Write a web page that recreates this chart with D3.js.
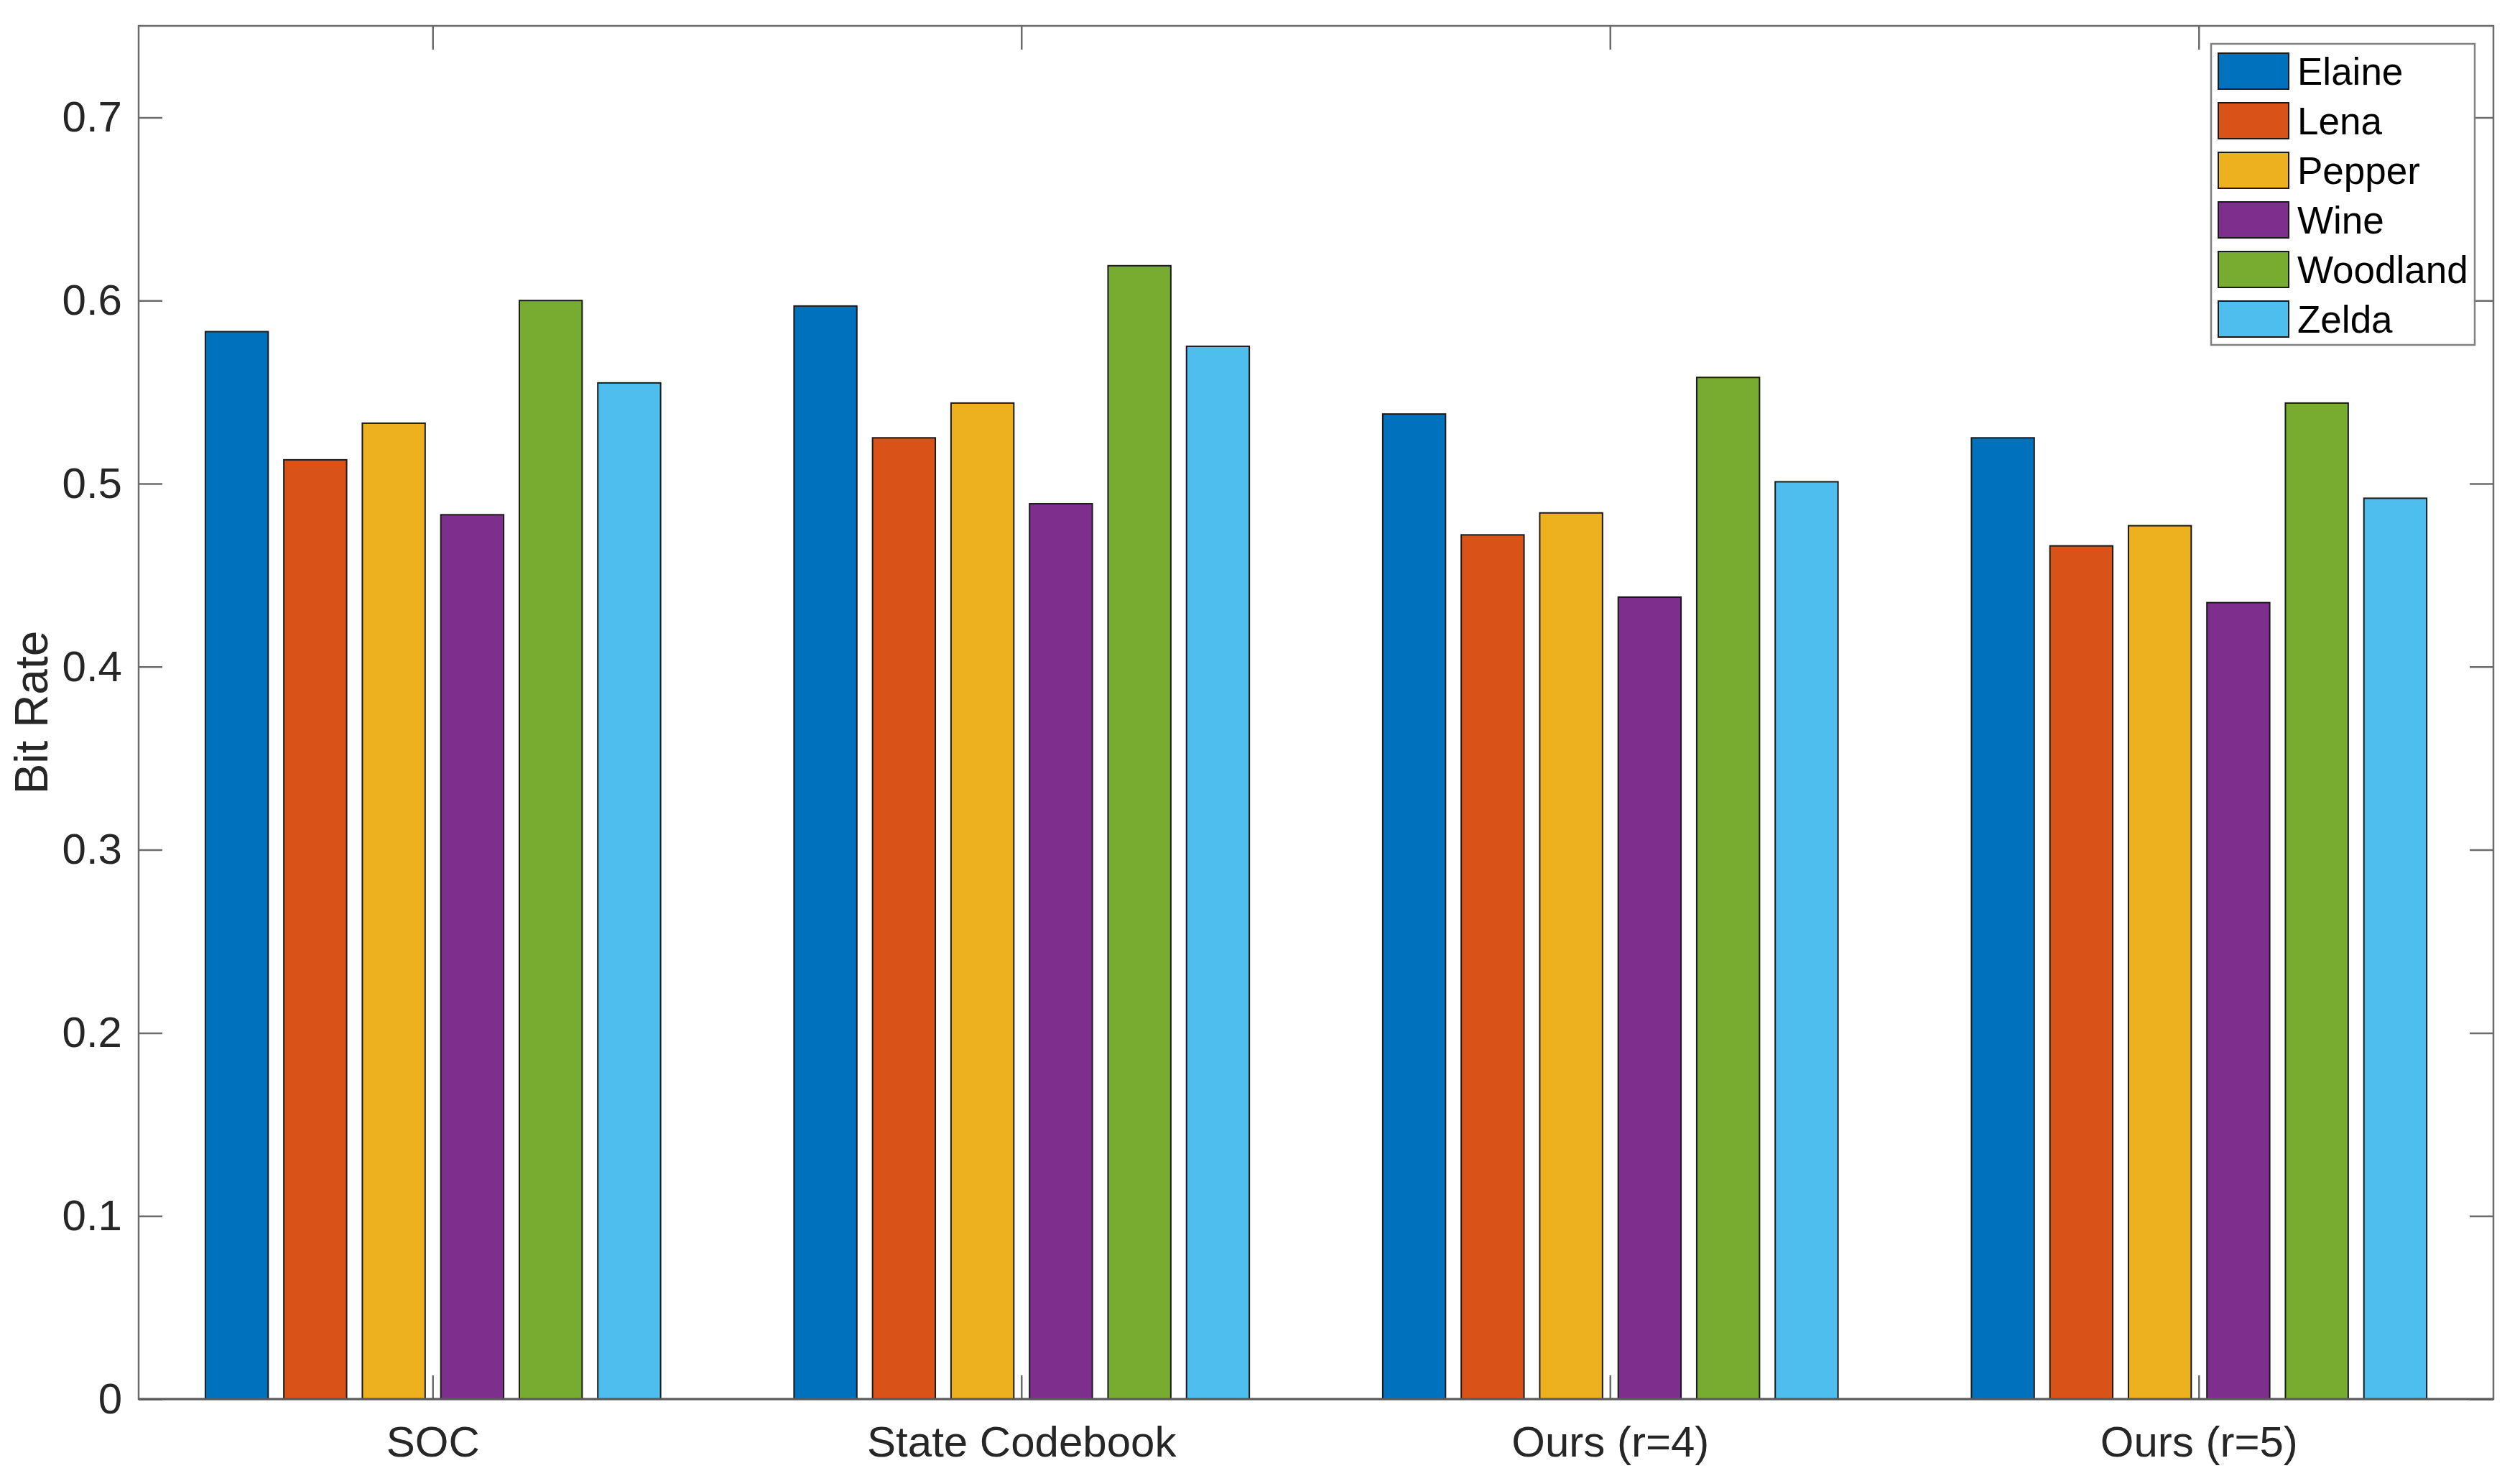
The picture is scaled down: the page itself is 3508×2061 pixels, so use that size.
<!DOCTYPE html>
<html>
<head>
<meta charset="utf-8">
<script src="https://cdn.jsdelivr.net/npm/d3@7/dist/d3.min.js"></script>
<style>
  html, body { margin: 0; padding: 0; background: #fff; }
  svg { display: block; font-family: "Liberation Sans", Arial, Helvetica, sans-serif; }
</style>
</head>
<body>
<div id="chart"></div>
<script>
// data
const categories = ['SOC', 'State Codebook', 'Ours (r=4)', 'Ours (r=5)'];
const seriesNames = ['Elaine', 'Lena', 'Pepper', 'Wine', 'Woodland', 'Zelda'];
const elaine   = [0.583, 0.597, 0.538, 0.525];
const lena     = [0.513, 0.525, 0.472, 0.466];
const pepper   = [0.533, 0.544, 0.484, 0.477];
const wine     = [0.483, 0.489, 0.438, 0.435];
const woodland = [0.600, 0.619, 0.558, 0.544];
const zelda    = [0.555, 0.575, 0.501, 0.492];
const yTicks = [0, 0.1, 0.2, 0.3, 0.4, 0.5, 0.6, 0.7];

const seriesValues = [elaine, lena, pepper, wine, woodland, zelda];
const colors = ['#0072BD', '#D95319', '#EDB120', '#7E2F8E', '#77AC30', '#4DBEEE'];

const W = 3508, H = 2061;
const margin = { left: 193, right: 37, top: 36, bottom: 114 };
const innerW = W - margin.left - margin.right;
const innerH = H - margin.top - margin.bottom;
const tickLen = 33;
const axisColor = '#262626';

const svg = d3.select('#chart').append('svg')
  .attr('width', W)
  .attr('height', H);

const g = svg.append('g').attr('transform', `translate(${margin.left},${margin.top})`);

// scales
const x0 = d3.scaleBand().domain(categories).range([0, innerW]).paddingInner(0.2).paddingOuter(0.1);
const x1 = d3.scaleBand().domain(seriesNames).range([0, x0.bandwidth()]).paddingInner(0.2).paddingOuter(0.1);
const y = d3.scaleLinear().domain([0, 0.75]).range([innerH, 0]);

// bars
const groups = g.selectAll('g.group')
  .data(categories)
  .join('g')
  .attr('class', 'group')
  .attr('transform', d => `translate(${x0(d)},0)`);

groups.selectAll('rect')
  .data((c, ci) => seriesNames.map((s, si) => ({ s, si, v: seriesValues[si][ci] })))
  .join('rect')
  .attr('x', d => x1(d.s))
  .attr('width', x1.bandwidth())
  .attr('y', d => y(d.v))
  .attr('height', d => innerH - y(d.v))
  .attr('fill', d => colors[d.si])
  .attr('stroke', '#1a1a1a')
  .attr('stroke-width', 2);

// axes, ticks point inward like matlab
const styleAxis = (sel) => {
  sel.select('.domain').remove();
  sel.selectAll('.tick line').attr('stroke', '#6b6b6b').attr('stroke-width', 2.5);
  sel.selectAll('.tick text').attr('fill', axisColor).style('font-size', '60px');
};

g.append('g')
  .call(d3.axisLeft(y).tickValues(yTicks).tickSizeInner(-tickLen).tickSizeOuter(0).tickPadding(23).tickFormat(d3.format('')))
  .call(styleAxis);

g.append('g')
  .attr('transform', `translate(${innerW},0)`)
  .call(d3.axisRight(y).tickValues(yTicks).tickSizeInner(-tickLen).tickSizeOuter(0).tickFormat(''))
  .call(styleAxis);

g.append('g')
  .attr('transform', `translate(0,${innerH})`)
  .call(d3.axisBottom(x0).tickSizeInner(-tickLen).tickSizeOuter(0).tickPadding(37))
  .call(styleAxis);

g.append('g')
  .call(d3.axisTop(x0).tickSizeInner(-tickLen).tickSizeOuter(0).tickFormat(''))
  .call(styleAxis);

// axes box
g.append('rect')
  .attr('width', innerW)
  .attr('height', innerH)
  .attr('fill', 'none')
  .attr('stroke', '#6b6b6b')
  .attr('stroke-width', 2.5);

g.append('line')
  .attr('x1', 0).attr('x2', innerW)
  .attr('y1', innerH).attr('y2', innerH)
  .attr('stroke', '#5a5a5a')
  .attr('stroke-width', 3);

// y label
svg.append('text')
  .attr('transform', `translate(66,${margin.top + innerH / 2}) rotate(-90)`)
  .attr('text-anchor', 'middle')
  .attr('fill', axisColor)
  .style('font-size', '64px')
  .text('Bit Rate');

// legend
const legend = svg.append('g').attr('transform', 'translate(3078,61)');
legend.append('rect')
  .attr('width', 367)
  .attr('height', 419)
  .attr('fill', '#fff')
  .attr('stroke', '#808080')
  .attr('stroke-width', 2.5);

const item = legend.selectAll('g.item')
  .data(seriesNames)
  .join('g')
  .attr('class', 'item')
  .attr('transform', (d, i) => `translate(10,${13 + i * 69})`);

item.append('rect')
  .attr('width', 98)
  .attr('height', 50)
  .attr('fill', (d, i) => colors[i])
  .attr('stroke', '#1a1a1a')
  .attr('stroke-width', 2);

item.append('text')
  .attr('x', 110)
  .attr('y', 25)
  .attr('dy', '0.36em')
  .attr('fill', '#000')
  .style('font-size', '53px')
  .text(d => d);
</script>
</body>
</html>
